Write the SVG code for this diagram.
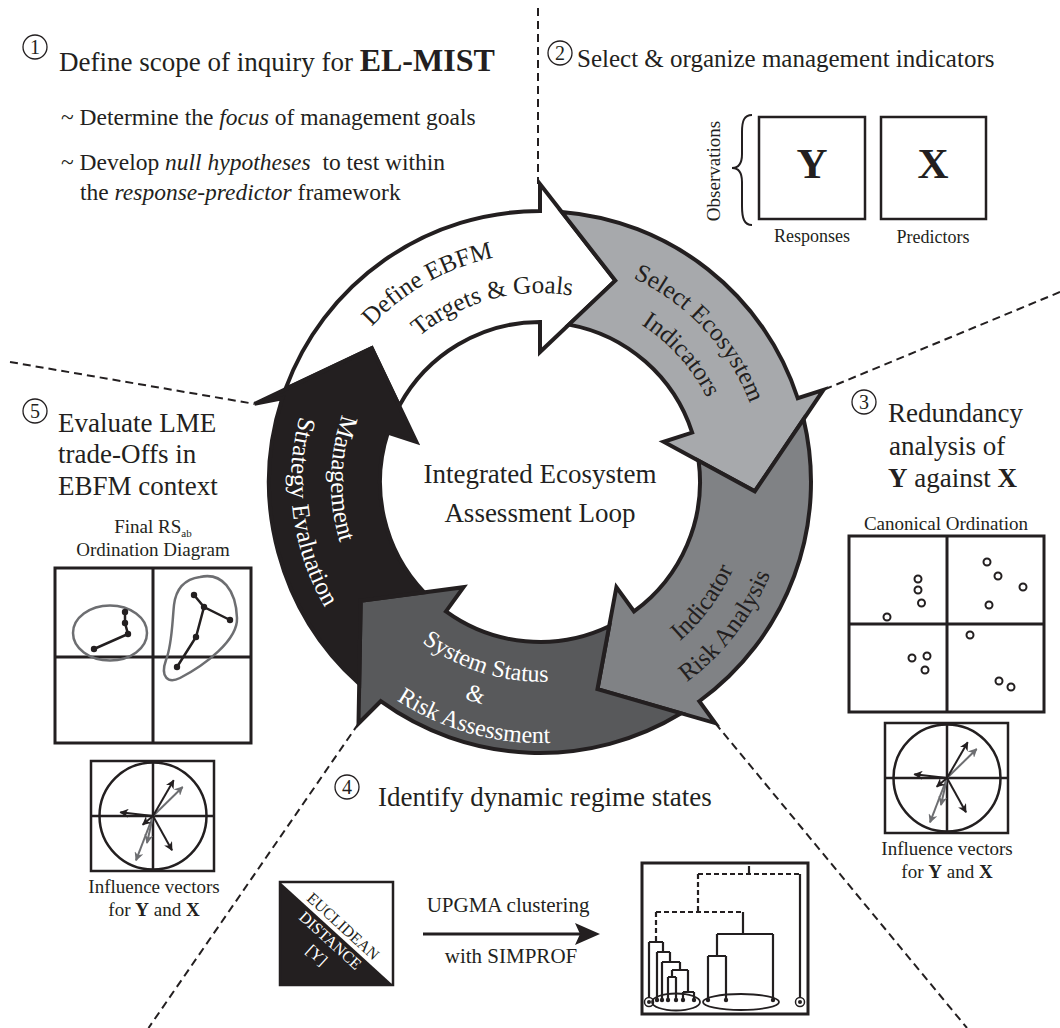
<svg xmlns="http://www.w3.org/2000/svg" width="1060" height="1028" viewBox="0 0 1060 1028">
<style>
text { font-family: "Liberation Serif", "Times New Roman", serif; fill: #231f20; }
.h { font-size: 27px; }
.b { font-size: 23.5px; }
.s { font-size: 19px; }
.rt { font-size: 25px; }
.rt3 { font-size: 24px; }
.w { fill: #fff; }
.ring { stroke: #231f20; stroke-width: 4; stroke-linejoin: miter; }
.dash { fill: none; stroke: #231f20; stroke-width: 2; stroke-dasharray: 8 5; }
.num circle { fill: none; stroke: #231f20; stroke-width: 1.3; }
.num text { font-size: 20px; text-anchor: middle; }
.ln { fill: none; stroke: #231f20; stroke-width: 2.5; }
.thin { fill: none; stroke: #231f20; stroke-width: 2; }
.gv { fill: none; stroke: #6d6e71; stroke-width: 2; }
.gl { fill: none; stroke: #6d6e71; stroke-width: 2.5; }
.dot { fill: #231f20; }
.den { fill: none; stroke: #231f20; stroke-width: 2.2; }
.dend { fill: none; stroke: #231f20; stroke-width: 2.2; stroke-dasharray: 5 3; }
.mid { text-anchor: middle; }
</style>
<defs>
<path id="ringArrow" d="M-250.18,-104.14 L-168.26,-133.84 L-140.74,-76.10 A160,160 0 0 1 0,-160 L0,-130 L75.29,-201.38 L0,-298 L0,-271 A271,271 0 0 0 -250.18,-104.14 Z"/>
<marker id="ahb" viewBox="0 0 10 10" refX="9" refY="5" markerWidth="9" markerHeight="9" markerUnits="userSpaceOnUse" orient="auto"><path d="M0,0 L10,5 L0,10 L3,5 Z" fill="#231f20"/></marker>
<marker id="ahg" viewBox="0 0 10 10" refX="9" refY="5" markerWidth="9" markerHeight="9" markerUnits="userSpaceOnUse" orient="auto"><path d="M0,0 L10,5 L0,10 L3,5 Z" fill="#6d6e71"/></marker>
<g id="infl">
<rect x="-62" y="-55" width="123" height="110" class="ln"/>
<circle r="53.5" class="ln"/>
<line x1="-62" y1="0" x2="61" y2="0" class="ln"/>
<line x1="0" y1="-55" x2="0" y2="55" class="ln"/>
<line x1="0" y1="0" x2="29.7" y2="-29" class="gv" marker-end="url(#ahg)"/>
<line x1="0" y1="0" x2="-17" y2="44.3" class="gv" marker-end="url(#ahg)"/>
<line x1="0" y1="0" x2="-6" y2="27" class="gv" marker-end="url(#ahg)"/>
<line x1="0" y1="0" x2="20.7" y2="-35.7" class="thin" marker-end="url(#ahb)"/>
<line x1="0" y1="0" x2="-32.7" y2="-3.7" class="thin" marker-end="url(#ahb)"/>
<line x1="0" y1="0" x2="19" y2="34.3" class="thin" marker-end="url(#ahb)"/>
<line x1="0" y1="0" x2="-10.3" y2="8.7" class="thin" marker-end="url(#ahb)"/>
</g>
<path id="tp1a" d="M319.33,420.80 A229,229 0 0 1 601.20,261.33"/>
<path id="tp1b" d="M376.32,387.50 A189,189 0 0 1 634.50,318.32"/>
<path id="tp2a" d="M547.82,258.14 A224,224 0 0 1 763.86,489.82"/>
<path id="tp2b" d="M549.79,295.26 A187,187 0 0 1 726.74,491.79"/>
<path id="tp3a" d="M575.90,690.83 A212,212 0 0 0 750.37,455.31"/>
<path id="tp3b" d="M584.71,726.20 A248,248 0 0 0 787.16,464.51"/>
<path id="tp4a" d="M365.25,576.36 A199,199 0 0 0 632.49,659.25"/>
<path id="tp4b" d="M337.73,590.92 A229,229 0 0 0 647.54,684.22"/>
<path id="tp4c" d="M312.84,610.52 A261,261 0 0 0 668.52,709.16"/>
<path id="tp5a" d="M394.82,331.66 A209,209 0 0 0 389.66,627.18"/>
<path id="tp5b" d="M342.46,330.42 A249,249 0 0 0 388.42,679.54"/>
</defs>

<g id="connectors">
<line x1="538" y1="8" x2="538" y2="184" class="dash"/>
<line x1="1060" y1="292" x2="823.4" y2="389.9" class="dash"/>
<line x1="10" y1="362" x2="254.5" y2="403.9" class="dash"/>
<line x1="358.5" y1="723.5" x2="148.5" y2="1028" class="dash"/>
<line x1="715.2" y1="723.1" x2="967" y2="1028" class="dash"/>
</g>

<g id="loop">
<g id="arrow-define">
<path class="ring" fill="#ffffff" d="M285.48,388.93 L371.74,348.16 L399.26,405.90 A160,160 0 0 1 540,322 L540,352 L615.29,280.62 L540,184 L540,211 A271,271 0 0 0 285.48,388.93 Z"/>
<text class="rt"><textPath href="#tp1a" startOffset="50%" text-anchor="middle">Define EBFM</textPath></text>
<text class="rt"><textPath href="#tp1b" startOffset="50%" text-anchor="middle">Targets &amp; Goals</textPath></text>
</g>
<g id="arrow-select">
<use href="#ringArrow" class="ring" fill="#a7a9ac" transform="translate(540,482) rotate(72)"/>
<text class="rt"><textPath href="#tp2a" startOffset="50%" text-anchor="middle">Select Ecosystem</textPath></text>
<text class="rt"><textPath href="#tp2b" startOffset="50%" text-anchor="middle">Indicators</textPath></text>
</g>
<g id="arrow-risk">
<use href="#ringArrow" class="ring" fill="#808285" transform="translate(540,482) rotate(144)"/>
<text class="rt"><textPath href="#tp3a" startOffset="50%" text-anchor="middle">Indicator</textPath></text>
<text class="rt"><textPath href="#tp3b" startOffset="50%" text-anchor="middle">Risk Analysis</textPath></text>
</g>
<g id="arrow-status">
<path class="ring" fill="#58595b" d="M681.19,713.30 L597.46,689.18 L609.13,626.30 A160,160 0 0 1 445.95,611.44 L463.59,587.17 L360.72,600.67 L358.5,723.5 L380.71,701.24 A271,271 0 0 0 681.19,713.30 Z"/>
<text class="rt3 w"><textPath href="#tp4a" startOffset="50%" text-anchor="middle">System Status</textPath></text>
<text class="rt3 w"><textPath href="#tp4b" startOffset="50%" text-anchor="middle">&amp;</textPath></text>
<text class="rt3 w"><textPath href="#tp4c" startOffset="50%" text-anchor="middle">Risk Assessment</textPath></text>
</g>
<g id="arrow-mse">
<path class="ring" fill="#231f20" d="M359.21,683.88 L360.71,600.67 L424.14,592.33 A160,160 0 0 1 387.83,432.56 L416.36,441.83 L371.75,348.16 L254.5,403.9 L282.26,398.26 A271,271 0 0 0 359.21,683.88 Z"/>
<text class="rt w"><textPath href="#tp5a" startOffset="50%" text-anchor="middle">Management</textPath></text>
<text class="rt w"><textPath href="#tp5b" startOffset="50%" text-anchor="middle">Strategy Evaluation</textPath></text>
</g>
<g id="center-title">
<text class="h mid" x="540" y="483">Integrated Ecosystem</text>
<text class="h mid" x="540" y="522">Assessment Loop</text>
</g>
</g>

<g id="step1">
<g class="num"><circle cx="35" cy="47" r="12"/><text x="35" y="54">1</text></g>
<text class="h" x="59" y="71">Define scope of inquiry for <tspan font-weight="bold" font-size="32">EL-MIST</tspan></text>
<text class="b" x="61" y="125">~ Determine the <tspan font-style="italic">focus</tspan> of management goals</text>
<text class="b" x="61" y="170" xml:space="preserve">~ Develop <tspan font-style="italic">null hypotheses</tspan>  to test within</text>
<text class="b" x="80" y="200">the <tspan font-style="italic">response-predictor</tspan> framework</text>
</g>

<g id="step2">
<g class="num"><circle cx="560" cy="53" r="12"/><text x="560" y="60">2</text></g>
<text x="577" y="67" font-size="25">Select &amp; organize management indicators</text>
<path d="M752,115 C744,115 742,121 742,132 L742,154 C742,163 739,168 732,168 C739,168 742,173 742,182 L742,206 C742,218 744,225 752,225" class="thin"/>
<text class="s mid" transform="translate(720,171) rotate(-90)">Observations</text>
<rect x="759" y="117" width="106" height="102" class="ln"/>
<rect x="881" y="117" width="105" height="102" class="ln"/>
<text class="mid" x="812" y="178" font-size="43" font-weight="bold">Y</text>
<text class="mid" x="933" y="178" font-size="43" font-weight="bold">X</text>
<text class="mid" x="812" y="242" font-size="18">Responses</text>
<text class="mid" x="933" y="243" font-size="18">Predictors</text>
</g>

<g id="step3">
<g class="num"><circle cx="864" cy="402" r="12"/><text x="864" y="409">3</text></g>
<text class="h" x="888" y="422">Redundancy</text>
<text class="h" x="889" y="455">analysis of</text>
<text class="h" x="888" y="487"><tspan font-weight="bold">Y</tspan> against <tspan font-weight="bold">X</tspan></text>
<text class="s mid" x="946" y="530">Canonical Ordination</text>
<rect x="849" y="536" width="195" height="176" fill="none" stroke="#231f20" stroke-width="3"/>
<line x1="947" y1="536" x2="947" y2="712" stroke="#231f20" stroke-width="3"/>
<line x1="849" y1="624" x2="1044" y2="624" stroke="#231f20" stroke-width="3"/>
<g fill="#fff" stroke="#231f20" stroke-width="2">
<circle cx="918" cy="579" r="3.5"/><circle cx="918" cy="590" r="3.5"/><circle cx="921.5" cy="603" r="3.5"/>
<circle cx="887" cy="617" r="3.5"/><circle cx="987" cy="562" r="3.5"/><circle cx="998" cy="576" r="3.5"/>
<circle cx="1023" cy="587" r="3.5"/><circle cx="989" cy="605" r="3.5"/><circle cx="970" cy="635" r="3.5"/>
<circle cx="912" cy="658" r="3.5"/><circle cx="927" cy="656" r="3.5"/><circle cx="925" cy="670" r="3.5"/>
<circle cx="999" cy="681" r="3.5"/><circle cx="1011" cy="687" r="3.5"/>
</g>
<use href="#infl" x="947" y="778"/>
<text class="s mid" x="947" y="855">Influence vectors</text>
<text class="s mid" x="947" y="878">for <tspan font-weight="bold">Y</tspan> and <tspan font-weight="bold">X</tspan></text>
</g>

<g id="step4">
<g class="num"><circle cx="347" cy="787" r="12"/><text x="347" y="794">4</text></g>
<text class="h" x="378" y="806">Identify dynamic regime states</text>
<g id="euclid">
<polygon points="280,882 393,985 280,985" fill="#231f20"/>
<rect x="280" y="882" width="113" height="103" fill="none" stroke="#231f20" stroke-width="2.5"/>
<g transform="translate(337.5,932.5) rotate(42.3)">
<text class="mid" y="-3" font-size="16">EUCLIDEAN</text>
<text class="mid w" y="16" font-size="16">DISTANCE</text>
<text class="mid w" y="36" font-size="16">[Y]</text>
</g>
</g>
<line x1="423" y1="934" x2="582" y2="934" stroke="#231f20" stroke-width="3"/>
<polygon points="575,923 600,934 575,945 580,934" fill="#231f20"/>
<text class="mid" x="508" y="912" font-size="21">UPGMA clustering</text>
<text class="mid" x="511" y="963" font-size="21">with SIMPROF</text>
<g id="dendrogram">
<rect x="642" y="863" width="166" height="151" fill="none" stroke="#231f20" stroke-width="3"/>
<path class="dend" d="M698,874 H800 M698,874 V912 M656,912 H743 M656,912 V942"/>
<path class="den" d="M749,866 V874 M800,874 V998 M743,912 V934 M717,934 H773 M773,934 V1000 M717,934 V956 M708,956 H726 M708,956 V1000 M726,956 V1000"/>
<path class="den" d="M649,942 H663 M649,942 V998 M663,942 V952 M657,952 H670 M657,952 V1000 M670,952 V962 M662,962 H680 M662,962 V1000 M680,962 V970 M672,970 H688 M672,970 V977 M688,970 V992 M668,977 H676 M668,977 V1000 M676,977 V1000 M683,992 H694 M683,992 V1000 M694,992 V1000"/>
<g class="dot">
<circle cx="657" cy="1000" r="2.2"/><circle cx="662" cy="1000" r="2.2"/><circle cx="668" cy="1000" r="2.2"/><circle cx="676" cy="1000" r="2.2"/><circle cx="683" cy="1000" r="2.2"/><circle cx="694" cy="1000" r="2.2"/>
<circle cx="708" cy="1000" r="2.2"/><circle cx="726" cy="1000" r="2.2"/><circle cx="773" cy="1000" r="2.2"/>
<circle cx="649" cy="1002" r="2"/><circle cx="800" cy="1002" r="2"/>
</g>
<circle cx="649" cy="1002" r="4.5" fill="none" stroke="#231f20" stroke-width="1.5"/>
<circle cx="800" cy="1002" r="4.5" fill="none" stroke="#231f20" stroke-width="1.5"/>
<ellipse cx="676" cy="1002" rx="24" ry="8.5" fill="none" stroke="#231f20" stroke-width="1.8"/>
<ellipse cx="741" cy="1002" rx="38" ry="8" fill="none" stroke="#231f20" stroke-width="1.8"/>
</g>
</g>

<g id="step5">
<g class="num"><circle cx="35" cy="411" r="12"/><text x="35" y="418">5</text></g>
<text class="h" x="58" y="432">Evaluate LME</text>
<text class="h" x="58" y="463">trade-Offs in</text>
<text class="h" x="58" y="495">EBFM context</text>
<text class="s mid" x="153" y="533">Final RS<tspan font-size="11" dy="4">ab</tspan></text>
<text class="s mid" x="153" y="556">Ordination Diagram</text>
<rect x="55" y="568" width="196" height="175" fill="none" stroke="#231f20" stroke-width="3"/>
<line x1="153" y1="568" x2="153" y2="743" stroke="#231f20" stroke-width="3"/>
<line x1="55" y1="657" x2="251" y2="657" stroke="#231f20" stroke-width="3"/>
<ellipse cx="110" cy="633" rx="37" ry="27.5" class="gl"/>
<path d="M200,577 C222,572 236,590 237,618 C238,640 205,665 180,678 C168,684 160,677 166,660 C172,645 172,625 174,605 C176,588 186,579 200,577 Z" class="gl"/>
<polyline points="125,612 125,623 128,634 94,649" class="ln"/>
<polyline points="194,595 204,607 230,620" class="ln"/>
<polyline points="204,607 196,637 177,667" class="ln"/>
<g class="dot">
<circle cx="125" cy="612" r="3.2"/><circle cx="125" cy="623" r="3.2"/><circle cx="128" cy="634" r="3.2"/><circle cx="94" cy="649" r="3.2"/>
<circle cx="194" cy="595" r="3.2"/><circle cx="204" cy="607" r="3.2"/><circle cx="230" cy="620" r="3.2"/><circle cx="196" cy="637" r="3.2"/><circle cx="177" cy="667" r="3.2"/>
</g>
<use href="#infl" x="153" y="816"/>
<text class="s mid" x="154" y="893">Influence vectors</text>
<text class="s mid" x="154" y="916">for <tspan font-weight="bold">Y</tspan> and <tspan font-weight="bold">X</tspan></text>
</g>
</svg>
